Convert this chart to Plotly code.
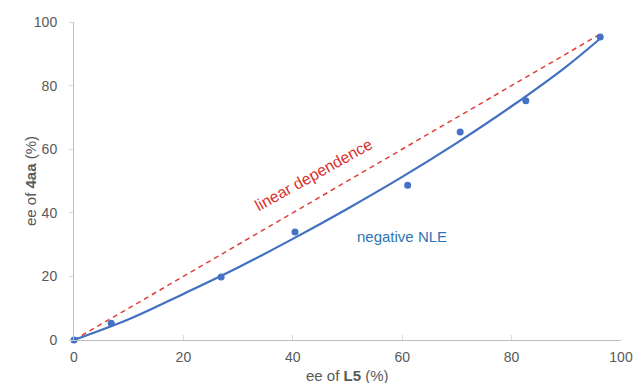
import plotly.graph_objects as go

# measured points: ee of L5 (%) vs ee of 4aa (%)
ee_L5 = [0, 6.8, 26.9, 40.4, 61.0, 70.6, 82.6, 96.2]
ee_4aa = [0, 5.3, 19.8, 34.0, 48.7, 65.4, 75.2, 95.3]

# fitted negative-NLE curve
fit_x = [0, 10, 20, 30, 40, 50, 60, 70, 80, 90, 96]
fit_y = [0, 6.5, 14.5, 22.8, 31.8, 41.3, 51.3, 62.0, 73.5, 86.0, 94.5]

# linear dependence reference
lin_x = [0, 96]
lin_y = [0, 96]

tick_vals = [0, 20, 40, 60, 80, 100]

fig = go.Figure()
fig.add_trace(go.Scatter(x=lin_x, y=lin_y, mode="lines",
                         line=dict(color="#e0403a", width=1.5, dash="5px,4px"),
                         showlegend=False, hoverinfo="skip"))
fig.add_trace(go.Scatter(x=fit_x, y=fit_y, mode="lines",
                         line=dict(color="#4270c0", width=2.2, shape="spline"),
                         showlegend=False))
fig.add_trace(go.Scatter(x=ee_L5, y=ee_4aa, mode="markers",
                         marker=dict(color="#4472c4", size=7),
                         showlegend=False, cliponaxis=False))

fig.add_annotation(x=43.9, y=51.9, text="linear dependence", showarrow=False,
                   textangle=-29, font=dict(color="#d9302c", size=16))
fig.add_annotation(x=60, y=32.4, text="negative NLE", showarrow=False,
                   font=dict(color="#2e75b6", size=15))

# axis titles
fig.add_annotation(x=0.5, y=0, xref="paper", yref="paper", yshift=-35,
                   text="ee of <b>L5</b> (%)", showarrow=False, yanchor="middle",
                   font=dict(size=15, color="#595959"))
fig.add_annotation(x=0, y=0.5, xref="paper", yref="paper", xshift=-44,
                   text="ee of <b>4aa</b> (%)", showarrow=False, textangle=-90,
                   xanchor="center", yanchor="middle",
                   font=dict(size=15, color="#595959"))

fig.update_layout(
    width=634, height=383,
    margin=dict(l=74, r=13, t=22, b=43, autoexpand=False),
    paper_bgcolor="white", plot_bgcolor="white",
    font=dict(family="Liberation Sans, Arial, sans-serif", color="#595959", size=14),
    xaxis=dict(range=[0, 100], tickvals=tick_vals, automargin=False,
               showgrid=False, zeroline=False, showline=True, linecolor="#bfbfbf",
               linewidth=1, ticks="inside", ticklen=5, tickcolor="#d9d9d9",
               ticklabelstandoff=4, ticklabeloverflow="allow"),
    yaxis=dict(range=[0, 100], tickvals=tick_vals, automargin=False,
               showgrid=False, zeroline=False, showline=True, linecolor="#bfbfbf",
               linewidth=1, ticks="outside", ticklen=4, tickcolor="#d9d9d9",
               ticklabelstandoff=9),
)

# remove the default page margin so the figure fills the window exactly
fig.write_html("out.html",
               config={"displayModeBar": False},
               post_script="document.body.style.margin='0';"
                           "document.documentElement.style.overflow='hidden';")
